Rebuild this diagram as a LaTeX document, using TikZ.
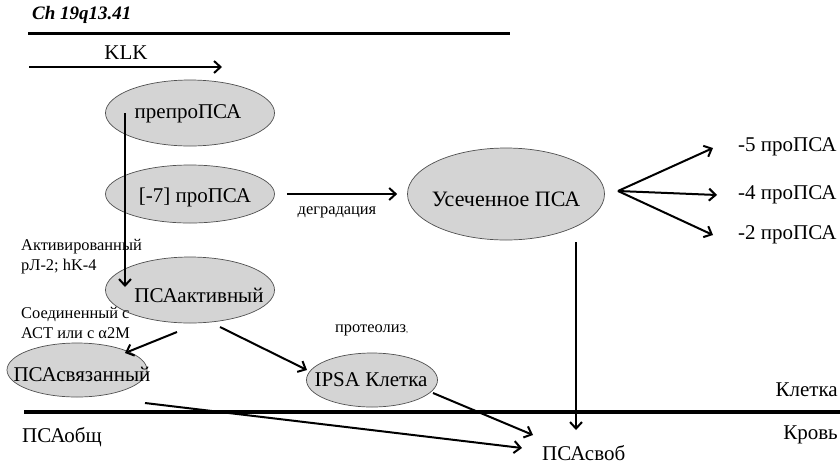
\documentclass[tikz,border=0pt]{standalone}
\usepackage{fontspec}
\setmainfont{Liberation Serif}
\usetikzlibrary{arrows.meta,shapes.geometric,calc}
\definecolor{blobfill}{RGB}{212,212,212}
\definecolor{blobline}{RGB}{80,80,80}
\tikzset{
  blob/.style={ellipse, draw=blobline, line width=0.7pt, fill=blobfill, inner sep=0pt},
  big/.style={font=\fontsize{21}{23}\selectfont, inner sep=0pt},
  bigger/.style={font=\fontsize{22}{24}\selectfont, inner sep=0pt},
  small/.style={font=\fontsize{16.4}{20}\selectfont, inner sep=0pt, align=left},
  arr/.style={line width=2pt, -{Straight Barb[length=6.5pt,width=12pt]}},
  bar/.style={line width=3.5pt}
}
\begin{document}
\begin{tikzpicture}[x=1pt,y=-1pt]
\useasboundingbox (0,0) rectangle (840,467);
% title and gene line
\node[font=\fontsize{19}{21}\selectfont\bfseries\itshape, anchor=west, inner sep=0pt] (title) at (32,15) {Ch 19q13.41};
\coordinate (t1) at (28,33); \coordinate (t2) at (510,33);
\draw[line width=3pt] (t1) -- (t2);
\node[big] (klk) at (126,53) {KLK};
\coordinate (k1) at (29,67); \coordinate (k2) at (222,67);
\draw[arr] (k1) -- (k2);
% ellipses
\node[blob, minimum width=169pt, minimum height=66pt] (prepro) at (190,113) {};
\node[big] (preprot) at (188,114) {препроПСА};
\node[blob, minimum width=169pt, minimum height=58pt] (pro7) at (190,194) {};
\node[big] (pro7t) at (195,197) {[-7] проПСА};
\node[blob, minimum width=169pt, minimum height=66pt] (aktiv) at (190,290) {};
\node[big] (aktivt) at (199,295) {ПСАактивный};
\node[blob, minimum width=197pt, minimum height=92pt] (usech) at (506,194) {};
\node[bigger] (useecht) at (506,199) {Усеченное ПСА};
\node[blob, minimum width=140pt, minimum height=54pt] (svyaz) at (77,370) {};
\node[big] (svyazt) at (82,374) {ПСАсвязанный};
\node[blob, minimum width=131pt, minimum height=54pt] (ipsa) at (372,380) {};
\node[big] (ipsat) at (371,380) {IPSA Клетка};
% small labels
\node[small, anchor=west] (activ) at (21,257) {Активированный\\рЛ-2; hK-4};
\node[small, anchor=west] (soed) at (21,323) {Соединенный с\\АСТ или с α2M};
\node[small] (degr) at (337,212) {деградация};
\node[small, anchor=west] (proteo) at (335,330) {протеолиз{\fontsize{8}{8}\selectfont,}};
% product labels
\node[big, anchor=west] (m5) at (738,147) {-5 проПСА};
\node[big, anchor=west] (m4) at (738,195) {-4 проПСА};
\node[big, anchor=west] (m2) at (738,235) {-2 проПСА};
\node[big, anchor=east] (cell) at (838,390) {Клетка};
\node[big, anchor=east] (blood) at (838,435) {Кровь};
\node[big, anchor=west] (obsch) at (22,437) {ПСАобщ};
\node[big, anchor=west] (svob) at (542,453) {ПСАсвоб};
% membrane
\coordinate (b1) at (24,412); \coordinate (b2) at (840,412);
\draw[bar] (b1) -- (b2);
% connectors
\coordinate (v1) at (125,113); \coordinate (v2) at (125,287);
\draw[arr] (v1) -- (v2);
\draw[arr, shorten <=12pt, shorten >=10pt] (pro7.east) -- (usech.west);
\coordinate (fan) at (618,191);
\coordinate (f5) at (713,148); \coordinate (f4) at (717,195); \coordinate (f2) at (713,235);
\draw[arr] (fan) -- (f5);
\draw[arr] (fan) -- (f4);
\draw[arr] (fan) -- (f2);
\coordinate (u1) at (576,242); \coordinate (u2) at (576,430);
\draw[arr] (u1) -- (u2);
\coordinate (a1) at (177,332); \coordinate (a2) at (125,353);
\draw[arr] (a1) -- (a2);
\coordinate (a3) at (220,327); \coordinate (a4) at (307,370);
\draw[arr] (a3) -- (a4);
\coordinate (s1) at (145,403); \coordinate (s2) at (522,448);
\draw[arr] (s1) -- (s2);
\coordinate (i1) at (433,393); \coordinate (i2) at (533,435);
\draw[arr] (i1) -- (i2);
\end{tikzpicture}
\end{document}
